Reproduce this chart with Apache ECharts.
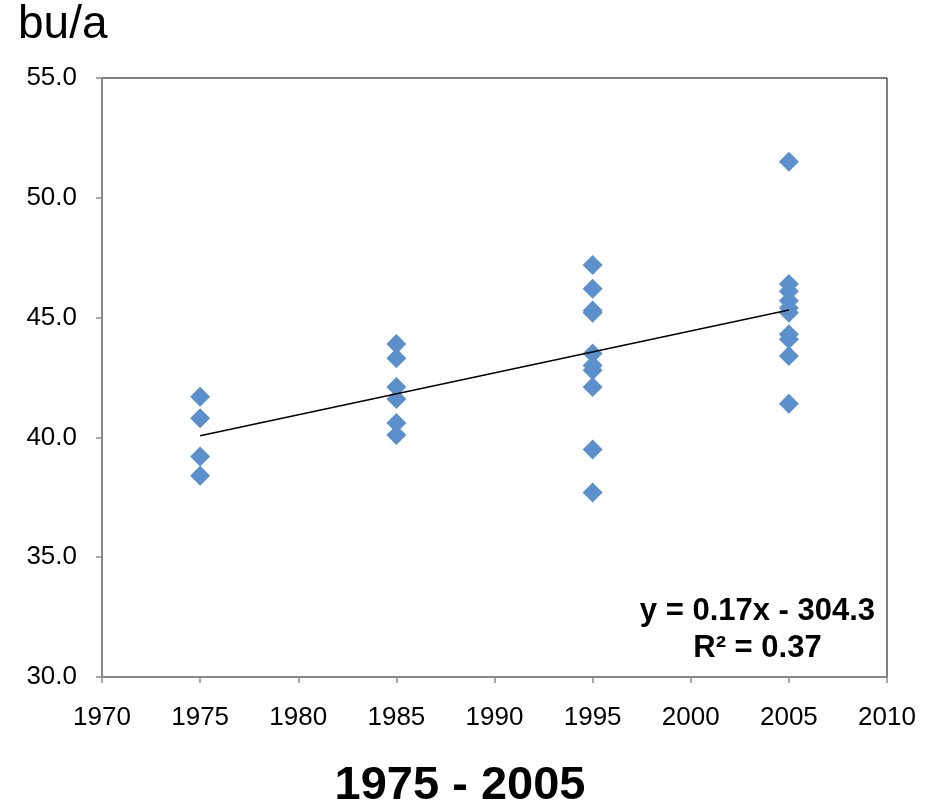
<!DOCTYPE html>
<html><head><meta charset="utf-8">
<script src="https://cdn.jsdelivr.net/npm/echarts@6/dist/echarts.min.js"></script>
<style>html,body{margin:0;padding:0;background:#fff}#c{width:936px;height:807px}</style>
</head><body><div id="c"></div>
<script>
const years = [1975, 1985, 1995, 2005];
const values1975 = [41.7, 40.8, 39.2, 38.4];
const values1985 = [43.9, 43.3, 42.1, 41.6, 40.6, 40.1];
const values1995 = [47.2, 46.2, 45.3, 45.2, 43.5, 43.0, 42.8, 42.1, 39.5, 37.7];
const values2005 = [51.5, 46.4, 46.1, 45.7, 45.4, 45.2, 44.3, 44.1, 43.4, 41.4];
const trendStart = [1975, 40.07];
const trendEnd = [2005, 45.32];
const yTicks = [30, 35, 40, 45, 50, 55];
const xTicks = [1970, 1975, 1980, 1985, 1990, 1995, 2000, 2005, 2010];
const equationText = 'y = 0.17x - 304.3';
const r2Text = 'R² = 0.37';

const groups = [values1975, values1985, values1995, values2005];
const points = [];
groups.forEach((g, i) => g.forEach(v => points.push([years[i], v])));

const chart = echarts.init(document.getElementById('c'));
const font = 'Liberation Sans, Arial, sans-serif';
chart.setOption({
  animation: false,
  grid: {left: 102, top: 78, right: 49, bottom: 130, show: true, borderColor: '#000', borderWidth: 1},
  xAxis: {
    type: 'value', min: xTicks[0], max: xTicks[xTicks.length-1], interval: 5,
    axisLine: {show: true, lineStyle: {color: '#8c8c8c', width: 1.5}},
    axisTick: {show: true, length: 6, lineStyle: {color: '#8c8c8c', width: 1.5}},
    splitLine: {show: false},
    axisLabel: {color: '#000', fontSize: 26, fontFamily: font, margin: 28, formatter: v => String(v)}
  },
  yAxis: {
    type: 'value', min: yTicks[0], max: yTicks[yTicks.length-1], interval: 5,
    axisLine: {show: true, lineStyle: {color: '#8c8c8c', width: 1.5}},
    axisTick: {show: true, length: 6, lineStyle: {color: '#8c8c8c', width: 1.5}},
    splitLine: {show: false},
    axisLabel: {color: '#000', fontSize: 26, fontFamily: font, margin: 25, formatter: v => v.toFixed(1)}
  },
  graphic: [
    {type: 'text', left: 18, top: 2, style: {text: 'bu/a', fontSize: 46, fontFamily: font, fill: '#000'}},
    {type: 'text', x: 460, y: 786, style: {text: '1975 - 2005', fontSize: 47, fontWeight: 'bold', fontFamily: font, fill: '#000', textAlign: 'center', textVerticalAlign: 'middle'}}
  ],
  series: [
    {
      type: 'scatter', data: points, symbol: 'diamond', symbolSize: 20,
      itemStyle: {color: '#5b90cc', opacity: 1}, z: 2
    },
    {
      type: 'line', data: [trendStart, trendEnd], symbol: 'none', z: 3,
      lineStyle: {color: '#000', width: 1.5}
    },
    {
      type: 'scatter', data: [], z: 4,
      markPoint: {
        symbol: 'rect', symbolSize: 1, itemStyle: {color: 'rgba(0,0,0,0)'},
        data: [
          {coord: [2003.4, 32.75], label: {show: true, formatter: equationText, color: '#000', fontSize: 31, fontWeight: 'bold', fontFamily: font, position: 'inside'}},
          {coord: [2003.4, 31.2], label: {show: true, formatter: r2Text, color: '#000', fontSize: 31, fontWeight: 'bold', fontFamily: font, position: 'inside'}}
        ]
      }
    }
  ]
});
</script></body></html>
